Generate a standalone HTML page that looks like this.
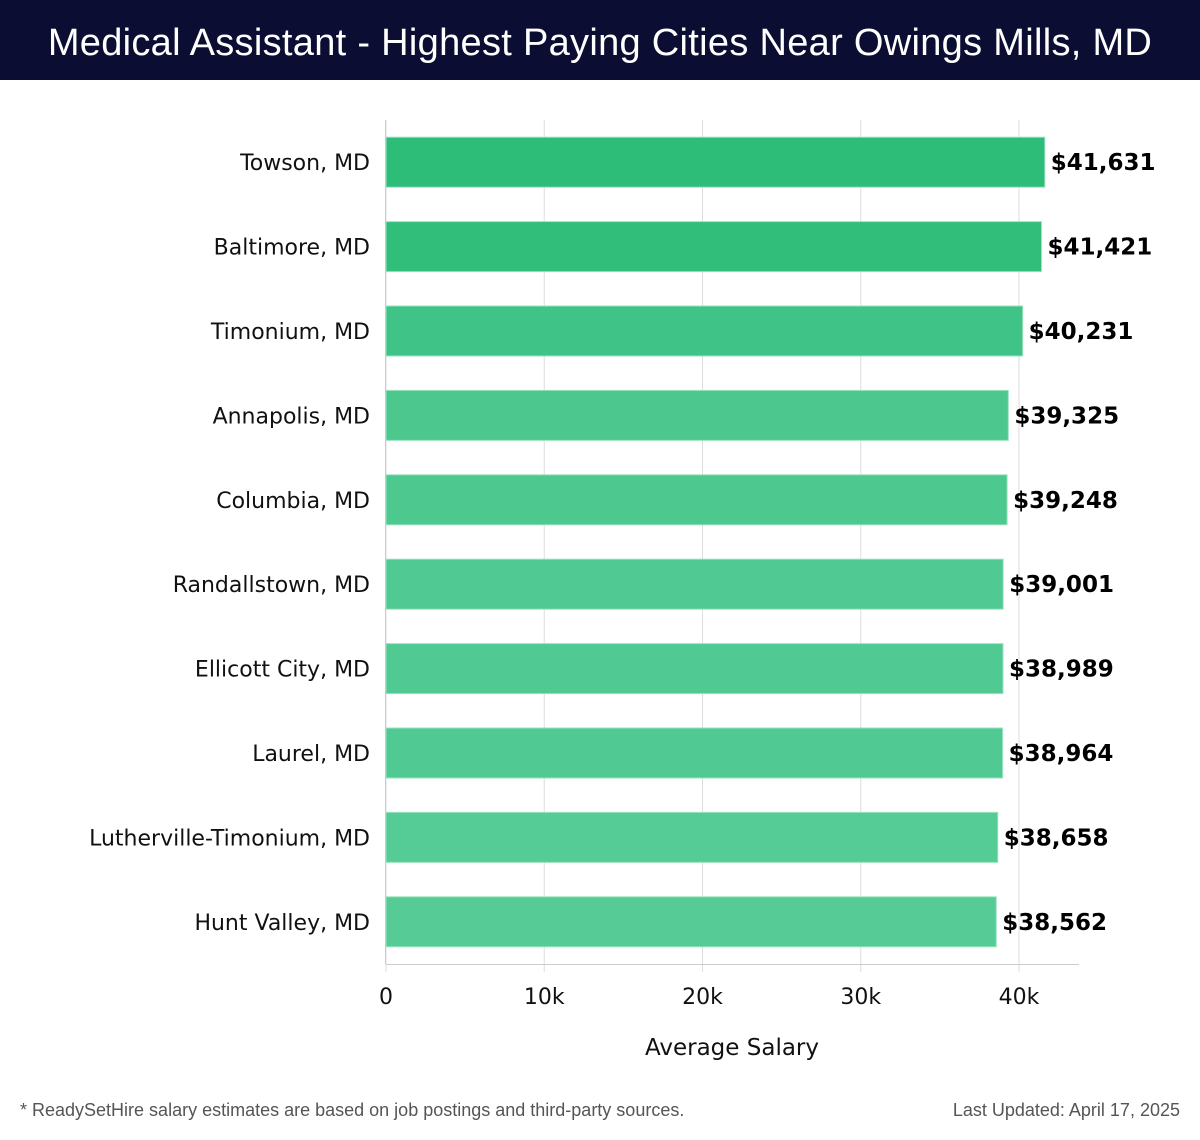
<!DOCTYPE html>
<html><head><meta charset="utf-8"><style>
body{margin:0;width:1200px;height:1140px;background:#fff;font-family:"DejaVu Sans","Liberation Sans",sans-serif;overflow:hidden}
#hdr{position:absolute;left:0;top:0;width:1200px;height:80px;background:#0b0d33;color:#fff;font-size:38px;line-height:86px;text-align:center;font-family:"Liberation Sans",sans-serif;letter-spacing:0.3px}
.foot{position:absolute;top:1100px;font-size:18px;color:#555;font-family:"Liberation Sans",sans-serif}
</style></head><body>
<div id="hdr">Medical Assistant - Highest Paying Cities Near Owings Mills, MD</div>
<svg id="chart" width="1200" height="1140" style="position:absolute;left:0;top:0"></svg>
<div class="foot" style="left:20px">* ReadySetHire salary estimates are based on job postings and third-party sources.</div>
<div class="foot" style="right:20px">Last Updated: April 17, 2025</div>
<script>
const categories=["Towson, MD","Baltimore, MD","Timonium, MD","Annapolis, MD","Columbia, MD","Randallstown, MD","Ellicott City, MD","Laurel, MD","Lutherville-Timonium, MD","Hunt Valley, MD"];
const salaries=[41631,41421,40231,39325,39248,39001,38989,38964,38658,38562];
const tickValues=[0,10000,20000,30000,40000];
const tickLabels=["0","10k","20k","30k","40k"];
const NS="http://www.w3.org/2000/svg";
const svg=document.getElementById("chart");
const x0=386,pxPer=633/40000,top0=120,band=84.4,barH=50,axisEnd=1079;
const xs=v=>x0+v*pxPer;
const ys=i=>top0+i*band+(band-barH)/2;
function mk(t,a){const e=document.createElementNS(NS,t);for(const k in a)e.setAttribute(k,a[k]);svg.appendChild(e);return e;}
tickValues.forEach((v,i)=>{
 const g=mk("line",{x1:xs(v),x2:xs(v),y1:top0,y2:972,stroke:"#ddd","stroke-width":1});
 
 
 const t=mk("text",{x:xs(v),y:1004,"text-anchor":"middle","font-size":22,fill:"#111"});
 t.textContent=tickLabels[i];
 
 
});
const ax=mk("line",{x1:x0,x2:axisEnd,y1:964.5,y2:964.5,stroke:"#ccc","stroke-width":1});


const ay=mk("line",{x1:x0-0.5,x2:x0-0.5,y1:top0,y2:964,stroke:"#ccc","stroke-width":1});


const mx=Math.max(...salaries),mn=Math.min(...salaries);
salaries.forEach((v,i)=>{
 const f=(mx-v)/(mx-mn||1);
 const r=Math.round(45+f*(86-45)),g=Math.round(189+f*(203-189)),b=Math.round(120+f*(150-120));
 const bar=mk("rect",{x:x0,y:ys(i),width:xs(v)-x0,height:barH,fill:`rgb(${r},${g},${b})`,stroke:"#9be3c0","stroke-width":1});
 
 
 const lab=mk("text",{x:370,y:ys(i)+barH/2+8,"text-anchor":"end","font-size":22,fill:"#111"});
 lab.textContent=categories[i];
 
 
 const val=mk("text",{x:xs(v)+6,y:ys(i)+barH/2+8,"font-size":23,"font-weight":"bold",fill:"#000"});
 val.textContent="$"+v.toLocaleString("en-US");
 
 
});
const xt=mk("text",{x:732,y:1055,"text-anchor":"middle","font-size":23,fill:"#111"});
xt.textContent="Average Salary";


</script>
</body></html>
